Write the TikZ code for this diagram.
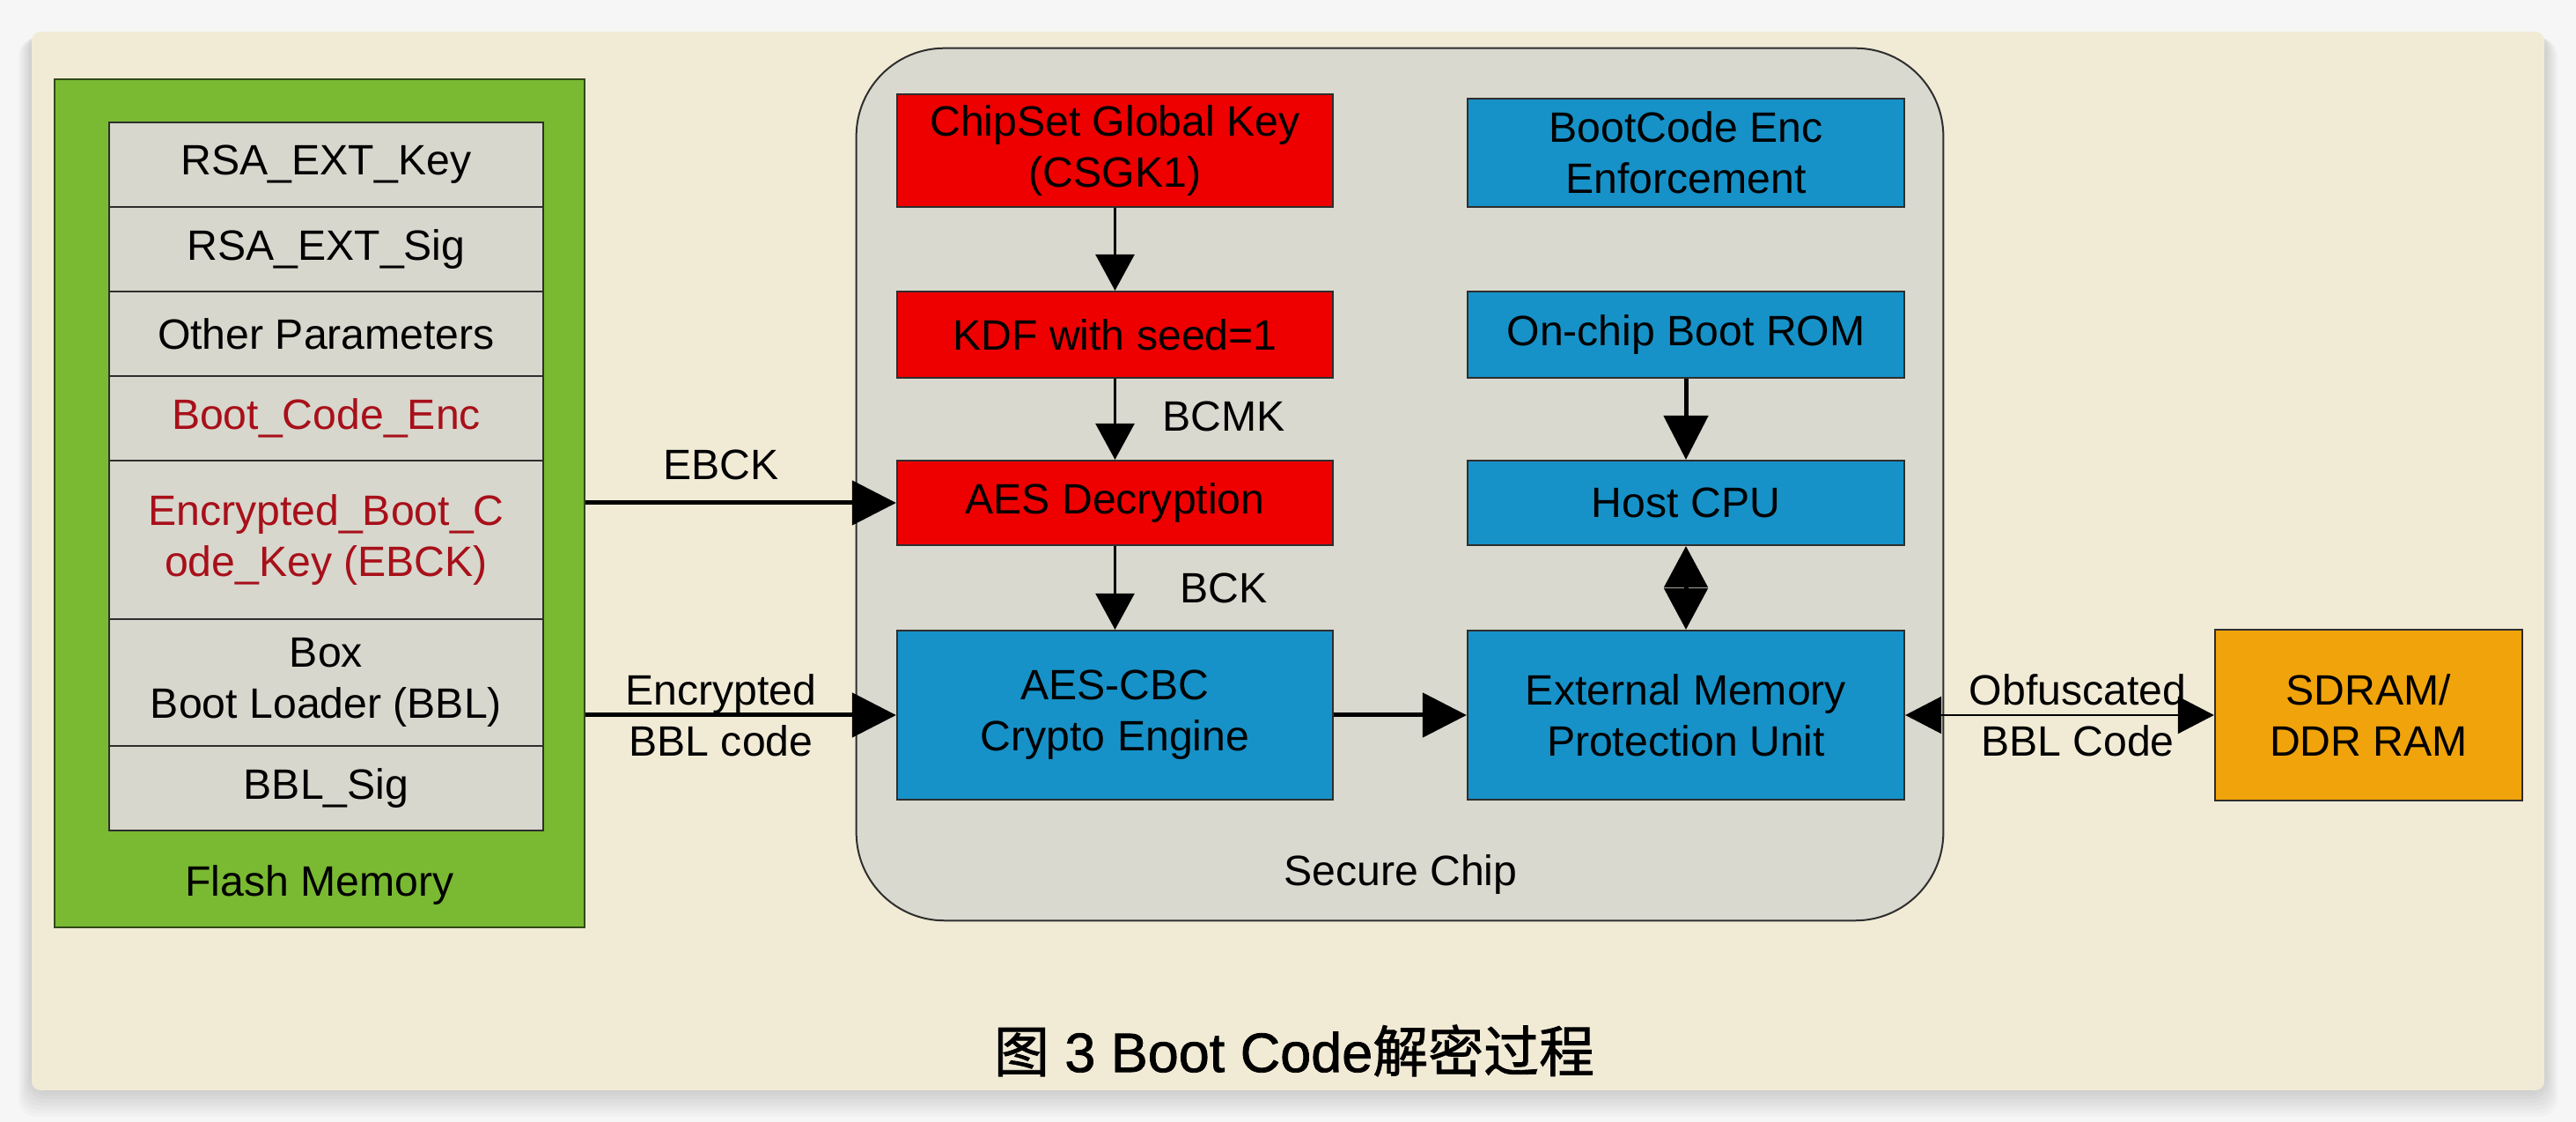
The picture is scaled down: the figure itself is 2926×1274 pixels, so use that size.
\documentclass[tikz,border=0pt]{standalone}
\usepackage{fontspec}
\setmainfont{Liberation Sans}
\newfontfamily\cjk[FakeBold=1.3]{Noto Sans CJK SC}
\newfontfamily\capfont[FakeBold=1.3]{Liberation Sans}
\usetikzlibrary{arrows.meta}
\definecolor{outbg}{HTML}{F6F6F6}
\definecolor{cardbg}{HTML}{F1EBD6}
\definecolor{flashgreen}{HTML}{7AB932}
\definecolor{flashedge}{HTML}{2F4A16}
\definecolor{cellgray}{HTML}{D7D7CD}
\definecolor{chipgray}{HTML}{D9D9CF}
\definecolor{keyred}{HTML}{EE0000}
\definecolor{unitblue}{HTML}{1692C8}
\definecolor{ramorange}{HTML}{F0A30A}
\definecolor{darkred}{HTML}{A8101A}
\definecolor{edge}{HTML}{2E2E2E}
\tikzset{
  txt/.style={font=\fontsize{13.7}{16.5}\selectfont, align=center, inner sep=0pt, text=black},
  blk/.style={txt, draw=edge, line width=0.02cm, minimum width=4.95cm},
  cellbox/.style={txt, draw=edge, line width=0.02cm, fill=cellgray, minimum width=4.93cm},
  thinarrow/.style={-{Triangle[length=0.41cm,width=0.44cm]}, line width=0.025cm},
  thickarrow/.style={-{Triangle[length=0.5cm,width=0.5cm]}, line width=0.05cm},
  dblarrow/.style={{Triangle[length=0.47cm,width=0.49cm]}-{Triangle[length=0.47cm,width=0.49cm]}, line width=0.05cm},
  obfarrow/.style={{Triangle[length=0.41cm,width=0.42cm]}-{Triangle[length=0.41cm,width=0.42cm]}, line width=0.02cm}
}
\begin{document}
\begin{tikzpicture}[x=0.01cm,y=-0.01cm]
\useasboundingbox (0,0) rectangle (2926,1274);
\fill[outbg] (0,0) rectangle (2926,1274);
% soft shadow
\foreach \s in {2,6,...,30}{
  \fill[black, opacity=0.018, rounded corners=0.2cm] ({36-\s/2},{36+\s/4}) rectangle ({2890+\s/2},{1238+\s});
}
\fill[cardbg, rounded corners=0.1cm] (36,36) rectangle (2890,1238);

% Flash memory
\node[draw=flashedge, line width=0.02cm, fill=flashgreen, minimum width=6.02cm, minimum height=9.63cm] (flash) at (363,571.5) {};
\node[cellbox, minimum height=0.96cm] (c1) at (370.5,187) {RSA\_EXT\_Key};
\node[cellbox, minimum height=0.96cm] (c2) at (370.5,283) {RSA\_EXT\_Sig};
\node[cellbox, minimum height=0.96cm] (c3) at (370.5,379) {Other Parameters};
\node[cellbox, minimum height=0.96cm, text=darkred] (c4) at (370.5,475) {Boot\_Code\_Enc};
\node[cellbox, minimum height=1.80cm, text=darkred] (c5) at (370.5,613) {Encrypted\_Boot\_C\\ode\_Key (EBCK)};
\node[cellbox, minimum height=1.44cm] (c6) at (370.5,775) {Box\\Boot Loader (BBL)};
\node[cellbox, minimum height=0.96cm] (c7) at (370.5,895) {BBL\_Sig};
\node[txt] (flashlbl) at (363,1005) {Flash Memory};

% Secure chip
\node[draw=edge, line width=0.02cm, fill=chipgray, rounded corners=1cm, minimum width=12.34cm, minimum height=9.9cm] (chip) at (1590,550) {};
\node[txt] (chiplbl) at (1591,993) {Secure Chip};

\node[blk, fill=keyred, minimum height=1.28cm] (csgk) at (1266.5,171) {ChipSet Global Key\\(CSGK1)};
\node[blk, fill=keyred, minimum height=0.98cm] (kdf) at (1266.5,380) {KDF with seed=1};
\node[blk, fill=keyred, minimum height=0.96cm] (dec) at (1266.5,571) {AES Decryption};
\node[blk, fill=unitblue, minimum height=1.92cm] (cbc) at (1266.5,812) {AES-CBC\\Crypto Engine};

\node[blk, fill=unitblue, minimum width=4.96cm, minimum height=1.23cm] (enf) at (1915,173.5) {BootCode Enc\\Enforcement};
\node[blk, fill=unitblue, minimum width=4.96cm, minimum height=0.98cm] (rom) at (1915,380) {On-chip Boot ROM};
\node[blk, fill=unitblue, minimum width=4.96cm, minimum height=0.96cm] (cpu) at (1915,571) {Host CPU};
\node[blk, fill=unitblue, minimum width=4.96cm, minimum height=1.92cm] (empu) at (1915,812) {External Memory\\Protection Unit};

% SDRAM
\node[blk, fill=ramorange, minimum width=3.49cm, minimum height=1.93cm] (sdram) at (2690.5,812) {SDRAM/\\DDR RAM};

% connectors
\draw[thinarrow] (csgk) -- (kdf);
\draw[thinarrow] (kdf) -- (dec);
\draw[thinarrow] (dec) -- (cbc);
\draw[thickarrow] (rom) -- (cpu);
\draw[dblarrow] (cpu) -- (empu);
\draw[thickarrow] (cbc) -- (empu);
\draw[thickarrow] (flash.east |- dec.west) -- (dec.west);
\draw[thickarrow] (flash.east |- cbc.west) -- (cbc.west);
\draw[obfarrow] (empu.east) -- (sdram.west);

% labels
\node[txt] (lbcmk) at (1390,473) {BCMK};
\node[txt] (lbck) at (1390,668) {BCK};
\node[txt] (lebck) at (819,528) {EBCK};
\node[txt] (lbbl) at (819,812) {Encrypted\\BBL code};
\node[txt] (lobf) at (2360,812) {Obfuscated\\BBL Code};

% caption
\node[font=\fontsize{17.9}{20}\selectfont\capfont, inner sep=0pt] (caption) at (1470,1193) {{\cjk 图} 3 Boot Code{\cjk 解密过程}};
\end{tikzpicture}
\end{document}
